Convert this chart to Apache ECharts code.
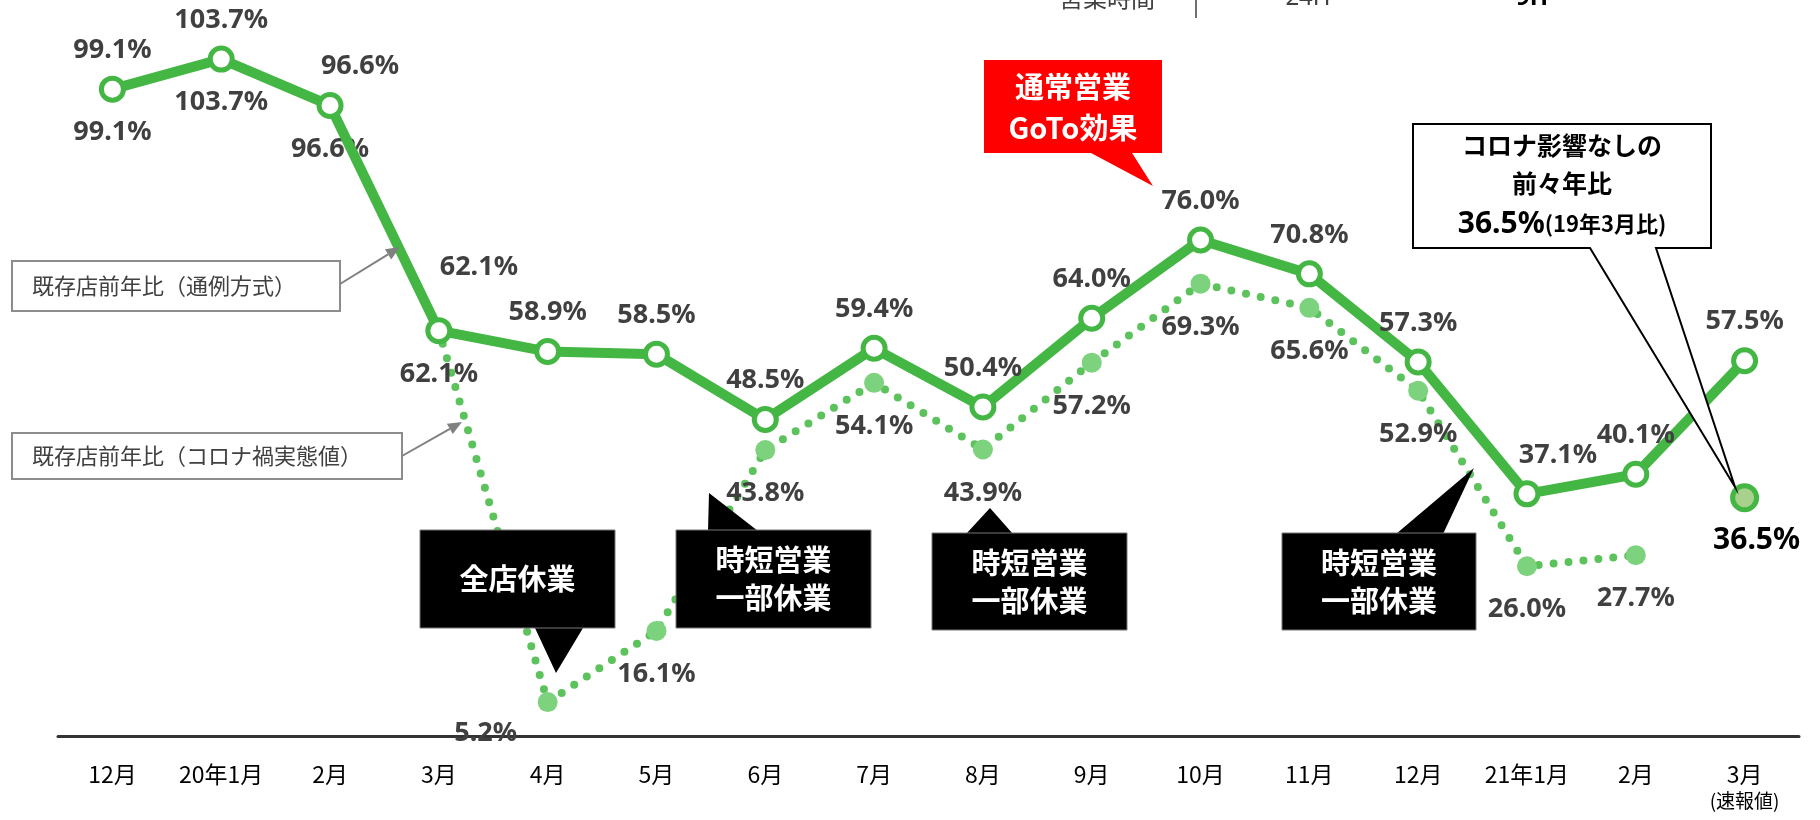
<!DOCTYPE html>
<html>
<head>
<meta charset="utf-8">
<script src="https://cdn.jsdelivr.net/npm/echarts@6/dist/echarts.min.js"></script>
<style>
  html, body { margin: 0; padding: 0; background: #fff; }
  #chart { width: 1820px; height: 820px; }
</style>
</head>
<body>
<div id="chart"></div>
<script>
// 月ラベル
const months = ['12月', '20年1月', '2月', '3月', '4月', '5月', '6月', '7月', '8月', '9月', '10月', '11月', '12月', '21年1月', '2月', '3月']

// 既存店前年比（通例方式）
const usualRatio = [99.1, 103.7, 96.6, 62.1, 58.9, 58.5, 48.5, 59.4, 50.4, 64.0, 76.0, 70.8, 57.3, 37.1, 40.1, 57.5]

// 既存店前年比（コロナ禍実態値）
const covidRatio = [99.1, 103.7, 96.6, 62.1, 5.2, 16.1, 43.8, 54.1, 43.9, 57.2, 69.3, 65.6, 52.9, 26.0, 27.7, null]

// 前々年比（19年3月比）
const twoYearRatio = [null, null, null, null, null, null, null, null, null, null, null, null, null, null, null, 36.5]

// ラベルのずらし量（重なり回避）
const usualLabelShift = { 2: [30, 0], 3: [40, -24], 13: [31, 0] }
const covidLabelShift = { 4: [-62, -12] }

const GREEN = '#43b643'
const LIGHT = '#7dd27d'
const LABEL = '#404040'
const LABEL_FONT = { fontFamily: 'Noto Sans', fontWeight: 'bold', fontSize: 27, color: LABEL }

const pct = p => p.value.toFixed(1) + '%'

const withShift = (arr, shifts) => arr.map((v, i) =>
  shifts[i] ? { value: v, label: { offset: shifts[i] } } : v
)

// 吹き出し（黒）
const blackBox = (x, y, w, h, ptr, lines) => ([
  {
    type: 'polygon', z: 20,
    shape: { points: ptr },
    style: { fill: '#000' }
  },
  {
    type: 'rect', z: 20,
    shape: { x: x, y: y, width: w, height: h },
    style: { fill: '#000', stroke: '#777', lineWidth: 1 }
  },
  {
    type: 'text', z: 21,
    x: x + w / 2, y: y + h / 2,
    style: {
      text: lines.join('\n'), fill: '#fff', align: 'center', verticalAlign: 'middle',
      fontFamily: 'Noto Sans CJK JP', fontWeight: 'bold', fontSize: 29, lineHeight: 38
    }
  }
])

const arrow = (x1, y1, x2, y2) => {
  const dx = x2 - x1, dy = y2 - y1
  const len = Math.sqrt(dx * dx + dy * dy)
  const ux = dx / len, uy = dy / len
  const bx = x2 - ux * 14, by = y2 - uy * 14
  return [
    { type: 'line', z: 20, shape: { x1: x1, y1: y1, x2: bx, y2: by }, style: { stroke: '#808080', lineWidth: 2 } },
    {
      type: 'polygon', z: 20,
      shape: { points: [[x2, y2], [bx + uy * 6, by - ux * 6], [bx - uy * 6, by + ux * 6]] },
      style: { fill: '#808080' }
    }
  ]
}

const legendBox = (x, y, w, h, text) => ([
  { type: 'rect', z: 20, shape: { x: x, y: y, width: w, height: h }, style: { fill: '#fff', stroke: '#8c8c8c', lineWidth: 2 } },
  {
    type: 'text', z: 21, x: x + 20, y: y + h / 2,
    style: { text: text, fill: LABEL, verticalAlign: 'middle', fontFamily: 'Noto Sans CJK JP', fontSize: 22 }
  }
])

const graphics = [].concat(
  // 上部の見切れた営業時間表
  [
    { type: 'text', z: 20, x: 1107, y: -2, style: { text: '営業時間', fill: LABEL, align: 'center', verticalAlign: 'middle', fontFamily: 'Noto Sans CJK JP', fontSize: 24 } },
    { type: 'line', z: 20, shape: { x1: 1196, y1: 0, x2: 1196, y2: 18 }, style: { stroke: '#404040', lineWidth: 1.5 } },
    { type: 'text', z: 20, x: 1308, y: -2, style: { text: '24H', fill: LABEL, align: 'center', verticalAlign: 'middle', fontFamily: 'Noto Sans', fontSize: 24 } },
    { type: 'text', z: 20, x: 1532, y: -2, style: { text: '9H', fill: '#000', align: 'center', verticalAlign: 'middle', fontFamily: 'Noto Sans', fontWeight: 'bold', fontSize: 24 } }
  ],
  legendBox(12, 261, 328, 50, '既存店前年比（通例方式）'),
  arrow(340, 284, 400, 247),
  legendBox(12, 433, 390, 46, '既存店前年比（コロナ禍実態値）'),
  arrow(402, 456, 462, 422),
  blackBox(420, 530, 195, 98, [[535, 628], [583, 628], [556, 673]], ['全店休業']),
  blackBox(676, 530, 195, 98, [[708, 531], [758, 531], [709, 493]], ['時短営業', '一部休業']),
  blackBox(932, 533, 195, 97, [[966, 534], [1013, 534], [990, 508]], ['時短営業', '一部休業']),
  blackBox(1282, 533, 194, 97, [[1396, 534], [1443, 534], [1474, 468]], ['時短営業', '一部休業']),
  // 通常営業 GoTo効果（赤）
  [
    {
      type: 'polygon', z: 20,
      shape: { points: [[984, 60], [1162, 60], [1162, 153], [1132, 153], [1153, 186], [1091, 153], [984, 153]] },
      style: { fill: '#ff0000' }
    },
    {
      type: 'text', z: 21, x: 1073, y: 107,
      style: {
        text: '通常営業\nGoTo効果', fill: '#fff', align: 'center', verticalAlign: 'middle',
        fontFamily: 'Noto Sans CJK JP', fontWeight: 'bold', fontSize: 29, lineHeight: 41
      }
    }
  ],
  // コロナ影響なしの前々年比
  [
    {
      type: 'polygon', z: 20,
      shape: { points: [[1413, 124], [1711, 124], [1711, 248], [1656, 248], [1735, 487], [1590, 248], [1413, 248]] },
      style: { fill: '#fff', stroke: '#000', lineWidth: 2 }
    },
    {
      type: 'text', z: 21, x: 1562, y: 186,
      style: {
        text: 'コロナ影響なしの\n前々年比\n{b|36.5%}{s|(19年3月比)}',
        fill: '#000', align: 'center', verticalAlign: 'middle',
        fontFamily: 'Noto Sans CJK JP', fontWeight: 'bold', fontSize: 25, lineHeight: 38,
        rich: {
          b: { fontFamily: 'Noto Sans', fontWeight: 'bold', fontSize: 30, lineHeight: 44, fill: '#000' },
          s: { fontFamily: 'Noto Sans CJK JP', fontWeight: 'bold', fontSize: 22, lineHeight: 44, fill: '#000' }
        }
      }
    }
  ]
)

const chart = echarts.init(document.getElementById('chart'))

chart.setOption({
  animation: false,
  backgroundColor: '#fff',
  grid: { left: 58, right: 21, top: 18, bottom: 84 },
  xAxis: {
    type: 'category',
    data: months,
    boundaryGap: true,
    axisLine: { lineStyle: { color: '#333', width: 3 } },
    axisTick: { show: false },
    axisLabel: {
      interval: 0,
      hideOverlap: false,
      margin: 27,
      color: '#000',
      fontFamily: 'Noto Sans CJK JP',
      fontSize: 23,
      formatter: (v, i) => i === months.length - 1 ? v + '\n{s|(速報値)}' : v,
      rich: { s: { fontSize: 19, color: '#000', fontFamily: 'Noto Sans CJK JP', lineHeight: 30 } }
    }
  },
  yAxis: { type: 'value', min: 0, max: 110, show: false, splitLine: { show: false } },
  series: [
    {
      name: '既存店前年比（コロナ禍実態値）',
      type: 'line',
      z: 2,
      data: withShift(covidRatio, covidLabelShift),
      symbol: 'circle',
      symbolSize: 20,
      itemStyle: { color: LIGHT },
      lineStyle: { color: '#5cc25c', width: 8, type: [0, 15], cap: 'round' },
      label: Object.assign({ show: true, position: 'bottom', distance: 20, formatter: pct }, LABEL_FONT)
    },
    {
      name: '既存店前年比（通例方式）',
      type: 'line',
      z: 3,
      data: withShift(usualRatio, usualLabelShift),
      symbol: 'circle',
      symbolSize: 22,
      itemStyle: { color: '#fff', borderColor: GREEN, borderWidth: 5 },
      lineStyle: { color: GREEN, width: 10 },
      label: Object.assign({ show: true, position: 'top', distance: 12, formatter: pct }, LABEL_FONT)
    },
    {
      name: '前々年比',
      type: 'line',
      z: 4,
      data: twoYearRatio,
      symbol: 'circle',
      symbolSize: 24,
      showAllSymbol: true,
      itemStyle: { color: '#a9d18e', borderColor: GREEN, borderWidth: 5 },
      lineStyle: { width: 0 },
      label: {
        show: true, position: 'bottom', distance: 13, offset: [12, 0],
        formatter: pct,
        fontFamily: 'Noto Sans', fontWeight: 'bold', fontSize: 30, color: '#000'
      }
    }
  ],
  graphic: { elements: graphics }
})
</script>
</body>
</html>
